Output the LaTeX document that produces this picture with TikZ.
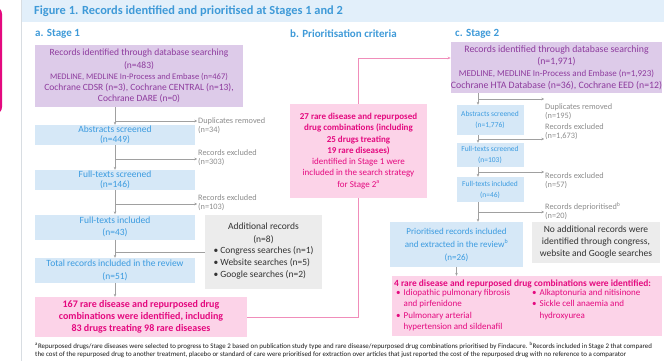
\documentclass[tikz,border=0pt]{standalone}
\usepackage{fontspec}
\setmainfont{Carlito}
\usetikzlibrary{arrows.meta}
\definecolor{headblue}{HTML}{3F9AD8}
\definecolor{bandblue}{HTML}{E2EFFA}
\definecolor{boxblue}{HTML}{D6E8F7}
\definecolor{txtblue}{HTML}{3B9BE0}
\definecolor{boxpurple}{HTML}{DDCBE9}
\definecolor{txtpurple}{HTML}{8E3C9E}
\definecolor{boxpink}{HTML}{FCD3E8}
\definecolor{txtpink}{HTML}{E4097F}
\definecolor{boxgrey}{HTML}{ECECEC}
\definecolor{txtgrey}{HTML}{8C8C8C}
\definecolor{linegrey}{HTML}{A0A0A0}
\definecolor{linepink}{HTML}{F08DBA}
\definecolor{framegrey}{HTML}{D8DDE2}
\tikzset{purplebox/.style={fill=boxpurple, text=txtpurple, align=center, inner sep=0pt},
    bluebox/.style={fill=boxblue, text=txtblue, align=center, inner sep=0pt},
    stageonebox/.style={bluebox, minimum width=160, font=\fontsize{9.5}{10.5}\selectfont},
    stagetwobox/.style={bluebox, minimum width=67, font=\fontsize{7.5}{11}\selectfont},
    pinkbox/.style={fill=boxpink, text=txtpink, align=center, inner sep=0pt},
    greybox/.style={fill=boxgrey, text=black!80, align=center, inner sep=0pt},
    sidenote/.style={text=txtgrey, align=left, anchor=west, inner sep=0pt, font=\fontsize{8.3}{9}\selectfont},
    heading/.style={text=headblue, anchor=west, inner sep=0pt, font=\fontsize{11}{12}\selectfont\bfseries},
    flow/.style={draw=linegrey, line width=0.5pt, -{Stealth[length=3pt,width=2.6pt]}},
    sidearrow/.style={draw=linegrey, line width=0.4pt, -{Stealth[length=2.6pt,width=2.6pt]}, shorten >=1pt},
    pinkline/.style={draw=linepink, line width=0.6pt},
}

\begin{document}
\begin{tikzpicture}[x=1pt, y=-1pt]
    \useasboundingbox (0,0) rectangle (664,361);
    %Edge of the panel beside and the frame
    \draw[txtpink, line width=2pt, rounded corners=6pt] (-40,8) rectangle (1,113);
    \fill[bandblue] (21,0) rectangle (664,22);
    \draw[framegrey, line width=0.6pt] (21,0) -- (21,361);
    \node[anchor=west, text=headblue, inner sep=0pt, font=\fontsize{12.4}{14}\selectfont\bfseries] (title) at (34,11) {Figure 1. Records identified and prioritised at Stages 1 and 2};
    \node[heading] (headA) at (35,34) {a. Stage 1};
    \node[heading] (headB) at (290,34) {b. Prioritisation criteria};
    \node[heading] (headC) at (455,34) {c. Stage 2};
    %Stage 1
    \node[purplebox, minimum width=208, minimum height=62, font=\fontsize{9.5}{11}\selectfont] (search1) at (139,76)
        {Records identified through database searching\\[1.5pt] (n=483)\\
        \fontsize{8.5}{11}\selectfont MEDLINE, MEDLINE In-Process and Embase (n=467)\\
        Cochrane CDSR (n=3), Cochrane CENTRAL (n=13),\\ Cochrane DARE (n=0)};
    \node[stageonebox, minimum height=20] (abs1) at (115,135) {Abstracts screened\\(n=449)};
    \node[stageonebox, minimum height=20] (fts1) at (115,180) {Full-texts screened\\(n=146)};
    \node[stageonebox, minimum height=25] (fti1) at (115,227) {Full-texts included\\[2pt](n=43)};
    \node[stageonebox, minimum height=25] (tot1) at (115,270.5) {Total records included in the review\\[2pt](n=51)};
    \node[pinkbox, minimum width=212, minimum height=40, font=\fontsize{10}{12}\selectfont\bfseries] (result1) at (141,317)
        {167 rare disease and repurposed drug\\ combinations were identified, including\\ 83 drugs treating 98 rare diseases};
    \node[greybox, minimum width=117, minimum height=74, font=\fontsize{9.5}{12}\selectfont] (add1) at (263.5,252)
        {Additional records\\[1pt] (n=8)\\
        \begin{tabular}{@{}l@{}}\textbullet\ Congress searches (n=1)\\ \textbullet\ Website searches (n=5)\\ \textbullet\ Google searches (n=2)\end{tabular}};
    \node[sidenote] (dup1) at (198,126) {Duplicates removed\\(n=34)};
    \node[sidenote] (exc1a) at (198,158) {Records excluded\\(n=303)};
    \node[sidenote] (exc1b) at (198,203) {Records excluded\\(n=103)};
    \coordinate (fork1a) at (115,121);
    \coordinate (fork1b) at (115,159);
    \coordinate (fork1c) at (115,204);
    \draw[flow] (abs1.north |- search1.south) -- (abs1.north);
    \draw[flow] (abs1.south) -- (fts1.north);
    \draw[flow] (fts1.south) -- (fti1.north);
    \draw[flow] (fti1.south) -- (tot1.north);
    \draw[flow] (tot1.south) -- (tot1.south |- result1.north);
    \draw[draw=linegrey, line width=0.5pt] (add1.west) -- (add1.west -| tot1.north);
    \draw[sidearrow] (fork1a) -- (fork1a -| dup1.west);
    \draw[sidearrow] (fork1b) -- (fork1b -| exc1a.west);
    \draw[sidearrow] (fork1c) -- (fork1c -| exc1b.west);
    %Prioritisation criteria
    \node[pinkbox, minimum width=137, minimum height=94, font=\fontsize{9}{11.3}\selectfont] (crit) at (358.5,151)
        {\textbf{27 rare disease and repurposed}\\ \textbf{drug combinations (including}\\ \textbf{25 drugs treating}\\ \textbf{19 rare diseases)}\\
        identified in Stage 1 were\\ included in the search strategy\\ for Stage 2\textsuperscript{a}};
    %Stage 2
    \node[purplebox, minimum width=203, minimum height=51, font=\fontsize{9.8}{12}\selectfont] (search2) at (556.5,67.5)
        {Records identified through database searching\\ (n=1,971)\\
        \fontsize{9}{12}\selectfont MEDLINE, MEDLINE In-Process and Embase (n=1,923)\\
        Cochrane HTA Database (n=36), Cochrane EED (n=12)};
    \node[stagetwobox, minimum height=30] (abs2) at (490,120) {Abstracts screened\\(n=1,776)};
    \node[stagetwobox, minimum height=24] (fts2) at (490,155) {Full-texts screened\\(n=103)};
    \node[stagetwobox, minimum height=25] (fti2) at (490,189.5) {Full-texts included\\(n=46)};
    \node[bluebox, minimum width=133, minimum height=45, font=\fontsize{9}{13}\selectfont] (prio) at (456.5,244.5)
        {Prioritised records included\\ and extracted in the review\textsuperscript{b}\\ (n=26)};
    \node[greybox, minimum width=128, minimum height=41, font=\fontsize{9.5}{12}\selectfont] (none2) at (596,242.5)
        {No additional records were\\ identified through congress,\\ website and Google searches};
    \node[pinkbox, minimum width=270, minimum height=60] (result2) at (527,306) {};
    \node[text=txtpink, anchor=west, inner sep=0pt, font=\fontsize{9.4}{11}\selectfont\bfseries] (result2head) at (394,284)
        {4 rare disease and repurposed drug combinations were identified:};
    \node[text=txtpink, anchor=north west, align=left, inner sep=0pt, font=\fontsize{9}{11.5}\selectfont] (result2left) at (396,289)
        {\makebox[7.5pt][l]{\textbullet}Idiopathic pulmonary fibrosis\\ \hspace*{7.5pt}and pirfenidone\\
        \makebox[7.5pt][l]{\textbullet}Pulmonary arterial\\ \hspace*{7.5pt}hypertension and sildenafil};
    \node[text=txtpink, anchor=north west, align=left, inner sep=0pt, font=\fontsize{9}{11.5}\selectfont] (result2right) at (532,289)
        {\makebox[7.5pt][l]{\textbullet}Alkaptonuria and nitisinone\\
        \makebox[7.5pt][l]{\textbullet}Sickle cell anaemia and\\ \hspace*{7.5pt}hydroxyurea};
    \node[sidenote] (dup2) at (545,111.5) {Duplicates removed\\(n=195)};
    \node[sidenote] (exc2a) at (545,131.5) {Records excluded\\(n=1,673)};
    \node[sidenote] (exc2b) at (545,181) {Records excluded\\(n=57)};
    \node[sidenote] (dep2) at (545,211) {Records deprioritised\textsuperscript{b}\\(n=20)};
    \coordinate (spine2) at (478,0);
    \coordinate (fork2a) at (478,99);
    \coordinate (fork2b) at (478,139);
    \coordinate (fork2c) at (478,172);
    \coordinate (fork2d) at (478,212);
    \draw[flow] (search2.south -| spine2) -- (abs2.north -| spine2);
    \draw[flow] (abs2.south -| spine2) -- (fts2.north -| spine2);
    \draw[flow] (fts2.south -| spine2) -- (fti2.north -| spine2);
    \draw[flow] (fti2.south -| spine2) -- (prio.north -| spine2);
    \draw[flow] (prio.south) -- (prio.south |- result2.north);
    \draw[sidearrow] (fork2a) -- (fork2a -| dup2.west);
    \draw[sidearrow] (fork2b) -- (fork2b -| exc2a.west);
    \draw[sidearrow] (fork2c) -- (fork2c -| exc2b.west);
    \draw[sidearrow] (fork2d) -- (fork2d -| dep2.west);
    %Links through the criteria
    \draw[pinkline, -{Stealth[length=3pt,width=2.6pt]}] (crit.north) |- ([yshift=9.5pt]search2.west);
    \draw[pinkline] (crit.south) |- (result1.east);
    %Footnote
    \node[anchor=north west, align=left, inner sep=0pt, text=black!90, font=\fontsize{6.9}{8.5}\selectfont] (foot) at (35,341.5)
        {\textsuperscript{a}Repurposed drugs/rare diseases were selected to progress to Stage 2 based on publication study type and rare disease/repurposed drug combinations prioritised by Findacure. \textsuperscript{b}Records included in Stage 2 that compared\\
        the cost of the repurposed drug to another treatment, placebo or standard of care were prioritised for extraction over articles that just reported the cost of the repurposed drug with no reference to a comparator};
\end{tikzpicture}
\end{document}
